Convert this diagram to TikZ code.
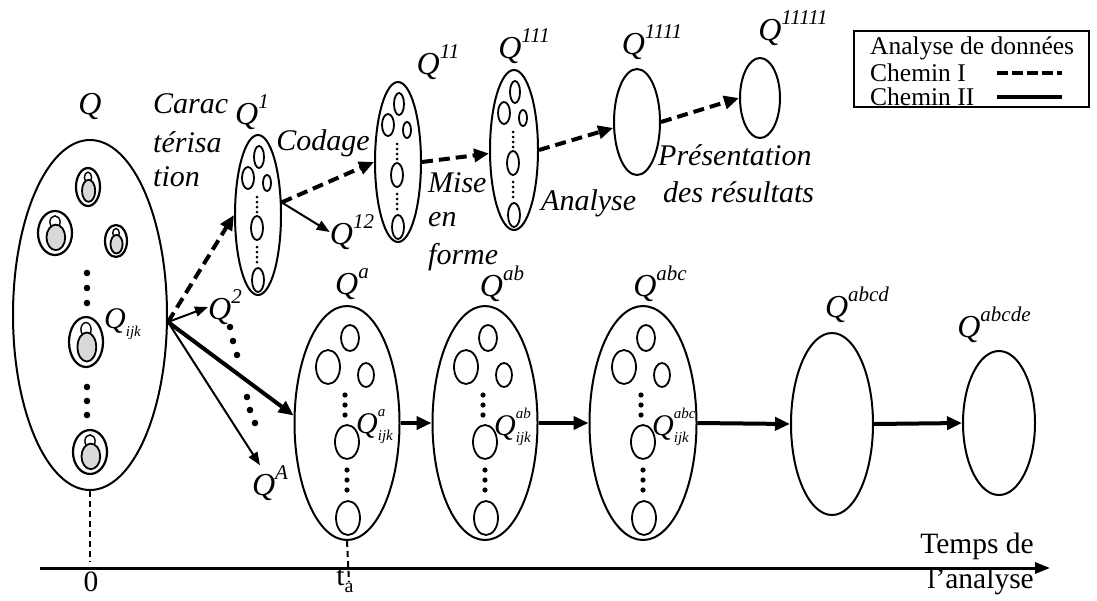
\documentclass[tikz,border=0pt]{standalone}
\usepackage{fontspec}
\setmainfont{Liberation Serif}
\usetikzlibrary{arrows.meta,shapes.geometric}
\newcommand\QS[1]{\textit{Q}\raisebox{0.5em}{\fontsize{21}{21}\selectfont\itshape #1}}
\newcommand\QSub[2]{\textit{Q}\rlap{\raisebox{0.55em}{\fontsize{15}{15}\selectfont\itshape #1}}\raisebox{-0.25em}{\fontsize{15}{15}\selectfont\itshape #2}}
\begin{document}
\begin{tikzpicture}[x=1pt,y=-1pt,
  ell/.style={draw, ellipse, line width=2pt, inner sep=0pt},
  qlab/.style={font=\fontsize{32}{34}\selectfont, inner sep=0pt},
  qsub/.style={font=\fontsize{30}{32}\selectfont, inner sep=0pt},
  itx/.style={font=\fontsize{30}{32}\selectfont\itshape, inner sep=0pt},
  rmx/.style={font=\fontsize{29.5}{32}\selectfont, inner sep=0pt},
  legx/.style={font=\fontsize{25.5}{28}\selectfont, inner sep=0pt, anchor=west},
  inel/.style={line width=1.8pt},
  dasharrow/.style={line width=4pt, dash pattern=on 11pt off 6pt, -{Triangle[length=15pt,width=13pt]}},
  thinarrow/.style={line width=2pt, -{Triangle[length=13pt,width=10pt]}},
  thickarrow/.style={line width=4pt, -{Triangle[length=15pt,width=13pt]}},
  dot/.style={fill=black, draw=none},
  vdash/.style={line width=2pt, dash pattern=on 6pt off 4pt}
]
\useasboundingbox (0,0) rectangle (1097,600);

% ---------- legend ----------
\node[draw, line width=1.5pt, minimum width=235pt, minimum height=76pt, inner sep=0pt, anchor=north west] (legend) at (853,30) {};
\node[legx] (l1) at (870,48) {Analyse de données};
\node[legx] (l2) at (870,73) {Chemin I};
\node[legx] (l3) at (870,97) {Chemin II};
\coordinate (d1a) at (997,73); \coordinate (d1b) at (1062,73);
\coordinate (d2a) at (997,97); \coordinate (d2b) at (1062,97);
\draw[line width=4pt, dash pattern=on 11pt off 4pt] (d1a) -- (d1b);
\draw[line width=4pt] (d2a) -- (d2b);

% ---------- big Q ----------
\node[ell, minimum width=154pt, minimum height=350pt] (Q) at (90,315) {};
\node[qlab] (Qlab) at (90,106) {\textit{Q}};
% persons
\foreach \n/\cx/\cy/\rx/\ry in {p1/88/187/12/19, p2/55/233/17/22, p3/116/241/11/16, p4/86/342/17/25, p5/90/452/17/22}{
  \draw[line width=2.2pt] (\cx,\cy) ellipse [x radius=\rx pt, y radius=\ry pt];
  \draw[line width=1.4pt] (\cx,\cy-0.5*\ry) ellipse [x radius=0.3*\rx pt, y radius=0.28*\ry pt];
  \draw[line width=1.8pt, fill=gray!30] (\cx+0.05*\rx,\cy+0.2*\ry) ellipse [x radius=0.55*\rx pt, y radius=0.58*\ry pt];
}
\foreach \y in {273,288,303,387,401,415} \fill[dot] (87,\y) circle (3.3pt);
\node[qsub, anchor=west] (Qijk) at (104,324) {\QSub{}{ijk}};
\coordinate (O) at (168,322);

% ---------- top row ----------
\node[ell, minimum width=46pt, minimum height=160pt] (Q1) at (258,215) {};
\node[ell, minimum width=46pt, minimum height=160pt] (Q11) at (398,162) {};
\node[ell, minimum width=48pt, minimum height=160pt] (Q111) at (514,150) {};
\node[ell, minimum width=46pt, minimum height=106pt] (Q1111) at (637,122) {};
\node[ell, minimum width=40pt, minimum height=80pt] (Q11111) at (760,98) {};
\foreach \c in {Q1,Q11,Q111}{
  \begin{scope}[shift={(\c.center)}]
    \draw[inel] (1,-58) ellipse [x radius=5pt, y radius=11pt];
    \draw[inel] (-10,-37) ellipse [x radius=6pt, y radius=11pt];
    \draw[inel] (9,-32) ellipse [x radius=4pt, y radius=8pt];
    \foreach \y in {-18,-13,-8,-3} \fill[dot] (-1,\y) circle (1.5pt);
    \draw[inel] (-1,13) ellipse [x radius=6pt, y radius=12pt];
    \foreach \y in {32,37,42,47} \fill[dot] (-1,\y) circle (1.5pt);
    \draw[inel] (0,65) ellipse [x radius=6pt, y radius=12pt];
  \end{scope}
}
\node[qlab] (Q1lab) at (252,112) {\QS{1}};
\node[qlab] (Q11lab) at (438,62) {\QS{11}};
\node[qlab] (Q111lab) at (524,46) {\QS{111}};
\node[qlab] (Q1111lab) at (652,42) {\QS{1111}};
\node[qlab] (Q11111lab) at (793,28) {\QS{11111}};
\node[qlab] (Q12) at (352,232) {\QS{12}};

\node[itx, anchor=west] (t1) at (153,104) {Carac};
\node[itx, anchor=west] (t2) at (153,142) {térisa};
\node[itx, anchor=west] (t3) at (153,177) {tion};
\node[itx] (cod) at (323,143) {Codage};
\node[itx, anchor=west] (m1) at (428,183) {Mise};
\node[itx, anchor=west] (m2) at (428,220) {en};
\node[itx, anchor=west] (m3) at (428,257) {forme};
\node[itx, anchor=west] (ana) at (541,203) {Analyse};
\node[itx, anchor=west] (pr1) at (658,155) {Présentation};
\node[itx, anchor=west] (pr2) at (663,192) {des résultats};

\draw[dasharrow] (O) -- (Q1.west);
\draw[dasharrow] (Q1.28) -- (Q11.west);
\draw[thinarrow] (Q1.28) -- (Q12.west);
\draw[dasharrow] (Q11.east) -- (Q111.188);
\draw[dasharrow] (Q111.east) -- (Q1111.194);
\draw[dasharrow] (Q1111.east) -- (Q11111.west);

% ---------- branches from Q ----------
\node[qlab] (Q2) at (225,307) {\QS{2}};
\node[qlab] (QA) at (270,483) {\QS{A}};
\draw[thinarrow] (O) -- (Q2.west);
\draw[thinarrow] (O) -- ([xshift=-10pt]QA.north);
\foreach \x/\y in {230/327,233/341,237/355,247/397,250/410,255/423} \fill[dot] (\x,\y) circle (3.3pt);

% ---------- bottom row ----------
\node[ell, minimum width=105pt, minimum height=234pt] (Qa) at (347,423) {};
\node[ell, minimum width=105pt, minimum height=234pt] (Qab) at (485,423) {};
\node[ell, minimum width=107pt, minimum height=234pt] (Qabc) at (643,423) {};
\node[ell, minimum width=82pt, minimum height=182pt] (Qabcd) at (832,424) {};
\node[ell, minimum width=72pt, minimum height=144pt] (Qabcde) at (999,423) {};
\foreach \c/\s in {Qa/a, Qab/ab, Qabc/abc}{
  \begin{scope}[shift={(\c.center)}]
    \draw[inel] (3,-85) ellipse [x radius=9pt, y radius=13pt];
    \draw[inel] (-19,-56) ellipse [x radius=12pt, y radius=17pt];
    \draw[inel] (19,-48) ellipse [x radius=8pt, y radius=12pt];
    \foreach \y in {-28,-18,-8} \fill[dot] (-2,\y) circle (2.6pt);
    \draw[inel] (0,19) ellipse [x radius=12pt, y radius=17pt];
    \foreach \y in {47,57,67} \fill[dot] (0,\y) circle (2.6pt);
    \draw[inel] (1,95) ellipse [x radius=12pt, y radius=17pt];
    \node[qsub, anchor=west] at (9,4) {\QSub{\s}{ijk}};
  \end{scope}
}
\node[qlab] (Qalab) at (352,284) {\QS{a}};
\node[qlab] (Qablab) at (502,284) {\QS{ab}};
\node[qlab] (Qabclab) at (660,284) {\QS{abc}};
\node[qlab] (Qabcdlab) at (857,305) {\QS{abcd}};
\node[qlab] (Qabcdelab) at (994,325) {\QS{abcde}};

\draw[thickarrow] (O) -- (Qa.172);
\draw[thickarrow] (Qa.east) -- (Qab.west);
\draw[thickarrow] (Qab.east) -- (Qabc.west);
\draw[thickarrow] (Qabc.east) -- (Qabcd.west);
\draw[thickarrow] (Qabcd.east) -- (Qabcde.west);

% ---------- time axis ----------
\coordinate (axL) at (40,568);
\coordinate (axR) at (1050,568);
\draw[line width=3pt, -{Triangle[length=15pt,width=11pt]}] (axL) -- (axR);
\coordinate (ax0) at (90,562);
\coordinate (axa) at (349,582);
\draw[vdash] (Q.south) -- (ax0);
\draw[vdash] (Qa.south) -- (axa);
\node[rmx] (zero) at (91,582) {0};
\node[rmx] (ta) at (345,581) {t\raisebox{-0.25em}{\fontsize{20}{20}\selectfont a}};
\node[rmx, anchor=east] (tp1) at (1034,546) {Temps de};
\node[rmx, anchor=east] (tp2) at (1034,581) {l’analyse};
\end{tikzpicture}
\end{document}
